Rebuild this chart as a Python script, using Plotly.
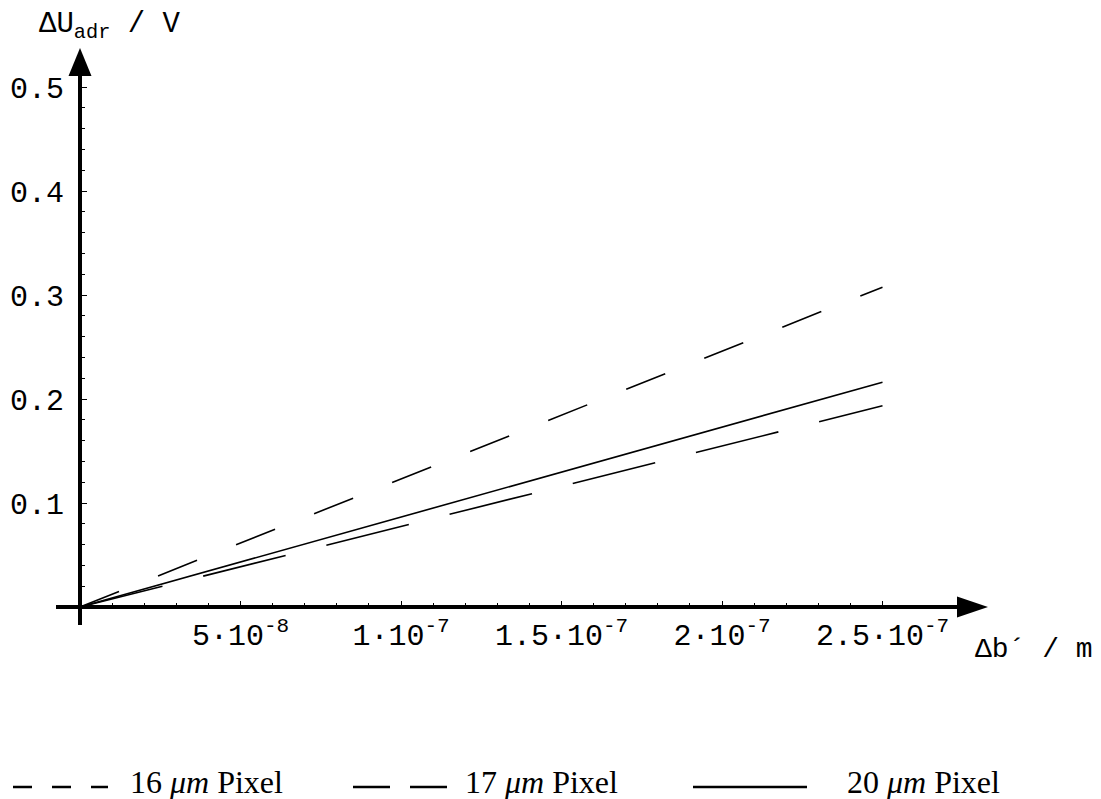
import plotly.graph_objects as go

# ---- data ----
db = [0.0, 2.5e-7]                 # Δb´ / m
u_16 = [0.0, 0.3075]               # ΔU_adr / V, 16 µm pixel
u_17 = [0.0, 0.1935]               # 17 µm pixel
u_20 = [0.0, 0.2162]               # 20 µm pixel
series_names = ["16", "17", "20"]

x_tick_vals = [5e-8, 1e-7, 1.5e-7, 2e-7, 2.5e-7]
x_tick_text = ["5·10<sup>-8</sup>", "1·10<sup>-7</sup>", "1.5·10<sup>-7</sup>",
               "2·10<sup>-7</sup>", "2.5·10<sup>-7</sup>"]
y_tick_vals = [0.1, 0.2, 0.3, 0.4, 0.5]
y_tick_text = ["0.1", "0.2", "0.3", "0.4", "0.5"]
x_minor_vals = [k * 1e-8 for k in range(1, 26)]
y_minor_vals = [k * 0.02 for k in range(1, 26)]

# ---- geometry ----
# the page body has an 8 px margin, so the figure is drawn 8 px in from the window corner
OFF = 8
W, H = 1101 - OFF, 799 - OFF
X0_SCREEN, X_SCALE = 80.0, 3.21e9      # window pixel of x=0, pixels per unit
Y0_SCREEN, Y_SCALE = 607.0, 1040.0     # window pixel of y=0, pixels per unit
X0_PX, Y0_PX = X0_SCREEN - OFF, Y0_SCREEN - OFF
x_range = [-X0_PX / X_SCALE, (W - X0_PX) / X_SCALE]
y_range = [-(H - Y0_PX) / Y_SCALE, Y0_PX / Y_SCALE]


def px(xs):
    return (xs - OFF) / W


def py(ys):
    return 1 - (ys - OFF) / H


MONO = "Liberation Mono, Courier New, monospace"
SERIF = "Liberation Serif, Times New Roman, serif"

fig = go.Figure()
styles = [dict(dash="42px,42px"), dict(dash="85px,42px"), dict(dash="solid")]
for name, ys, st in zip(series_names, [u_16, u_17, u_20], styles):
    fig.add_trace(go.Scatter(x=db, y=ys, mode="lines", name=name + " µm Pixel",
                             line=dict(color="black", width=1.6, **st),
                             showlegend=False, hoverinfo="skip"))

# axis lines with arrowheads
x_arrow_base = (958 - X0_SCREEN) / X_SCALE
y_arrow_base = (Y0_SCREEN - 75) / Y_SCALE
fig.add_shape(type="line", x0=-24 / X_SCALE, x1=x_arrow_base, y0=0, y1=0,
              xref="x", yref="y", line=dict(color="black", width=4))
fig.add_shape(type="line", x0=0, x1=0, y0=-18 / Y_SCALE, y1=y_arrow_base,
              xref="x", yref="y", line=dict(color="black", width=4))
fig.add_shape(type="path", xref="x", yref="y", xsizemode="pixel", ysizemode="pixel",
              xanchor=x_arrow_base, yanchor=0, path="M -1,-10.5 L 30,0 L -1,10.5 Z",
              fillcolor="black", line=dict(color="black", width=0))
fig.add_shape(type="path", xref="x", yref="y", xsizemode="pixel", ysizemode="pixel",
              xanchor=0, yanchor=y_arrow_base, path="M -11.5,-1 L 11.5,-1 L 0,27 Z",
              fillcolor="black", line=dict(color="black", width=0))

# axis titles
fig.add_annotation(x=px(37), y=py(26), xref="paper", yref="paper",
                   xanchor="left", yanchor="middle", showarrow=False,
                   text="ΔU<sub>adr</sub> / V", font=dict(family=MONO, size=29, color="black"))
fig.add_annotation(x=px(973), y=py(649), xref="paper", yref="paper",
                   xanchor="left", yanchor="middle", showarrow=False,
                   text="Δb´ / m", font=dict(family=MONO, size=28, color="black"))

# custom legend at the bottom
legend_samples = [
    dict(x0=13, x1=108, dash="19px,20px", tx=128),
    dict(x0=353, x1=447, dash="37px,20px", tx=463),
    dict(x0=693, x1=807, dash="solid", tx=845),
]
for name, s in zip(series_names, legend_samples):
    fig.add_shape(type="line", xref="paper", yref="paper", x0=px(s["x0"]), x1=px(s["x1"]),
                  y0=py(787), y1=py(787), line=dict(color="black", width=2.5, dash=s["dash"]))
    fig.add_annotation(x=px(s["tx"]), y=py(782), xref="paper", yref="paper",
                       xanchor="left", yanchor="middle", showarrow=False,
                       text=name + " <i>μm</i> Pixel",
                       font=dict(family=SERIF, size=32, color="black"))

fig.update_layout(
    width=W, height=H,
    margin=dict(l=0, r=0, t=0, b=0, pad=0),
    paper_bgcolor="white", plot_bgcolor="white",
    showlegend=False,
    xaxis=dict(range=x_range, domain=[0, 1], anchor="free", position=(H - Y0_PX) / H,
               showgrid=False, zeroline=False, showline=False, automargin=False,
               tickmode="array", tickvals=x_tick_vals, ticktext=x_tick_text,
               ticks="inside", ticklen=6, tickwidth=1.3, tickcolor="black",
               ticklabelstandoff=7,
               tickfont=dict(family=MONO, size=30, color="black"),
               minor=dict(tickmode="array", tickvals=x_minor_vals, ticks="inside",
                          ticklen=4, tickwidth=1.1, tickcolor="black")),
    yaxis=dict(range=y_range, domain=[0, 1], anchor="free", position=X0_PX / W,
               showgrid=False, zeroline=False, showline=False, automargin=False,
               tickmode="array", tickvals=y_tick_vals, ticktext=y_tick_text,
               ticks="inside", ticklen=6, tickwidth=1.3, tickcolor="black",
               ticklabelstandoff=16,
               tickfont=dict(family=MONO, size=30, color="black"),
               minor=dict(tickmode="array", tickvals=y_minor_vals, ticks="inside",
                          ticklen=4, tickwidth=1.1, tickcolor="black")),
)

fig.write_html("out.html")
